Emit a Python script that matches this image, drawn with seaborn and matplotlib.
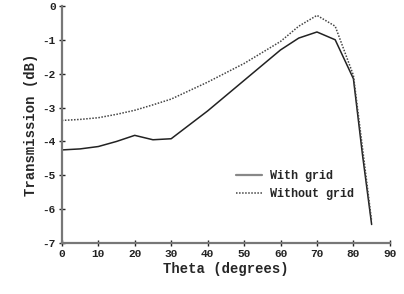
import matplotlib
matplotlib.use("Agg")
import matplotlib.pyplot as plt
import seaborn as sns
import pandas as pd

theta = [0, 5, 10, 15, 20, 25, 30, 40, 50, 60, 65, 70, 75, 80, 82.5, 85]
with_grid = [-4.25, -4.22, -4.15, -4.0, -3.82, -3.95, -3.92, -3.1, -2.2, -1.3, -0.95, -0.77, -1.0, -2.15, -4.4, -6.45]
without_grid = [-3.38, -3.35, -3.3, -3.2, -3.08, -2.92, -2.75, -2.25, -1.7, -1.05, -0.6, -0.28, -0.6, -2.05, -4.2, -6.35]
x_ticks = [0, 10, 20, 30, 40, 50, 60, 70, 80, 90]
y_ticks = [0, -1, -2, -3, -4, -5, -6, -7]

df = pd.DataFrame({
    "Theta": theta * 2,
    "Transmission": with_grid + without_grid,
    "Series": ["With grid"] * len(theta) + ["Without grid"] * len(theta),
})

sns.set_style("ticks")
plt.rcParams["font.family"] = ["Liberation Mono", "DejaVu Sans Mono"]
plt.rcParams["font.weight"] = "bold"

fig = plt.figure(figsize=(4.04, 2.94), dpi=100)
ax = fig.add_axes([0.153, 0.173, 0.812, 0.807])

sns.lineplot(data=df, x="Theta", y="Transmission", hue="Series", style="Series",
             palette={"With grid": "#222222", "Without grid": "#444444"},
             dashes={"With grid": "", "Without grid": (1, 1)},
             linewidth=1.1, ax=ax, legend=True)

ax.set_xlim(0, 90)
ax.set_ylim(-7, 0)
ax.set_xticks(x_ticks)
ax.set_yticks(y_ticks)
ax.set_xticklabels([str(v) for v in x_ticks], fontsize=8, fontweight="bold")
ax.set_yticklabels([str(v) for v in y_ticks], fontsize=8, fontweight="bold")
ax.set_xlabel("Theta (degrees)", fontsize=10, fontweight="bold", labelpad=2)
ax.set_ylabel("Transmission (dB)", fontsize=10, fontweight="bold", labelpad=3)
ax.tick_params(direction="inout", length=5, width=1, pad=2, colors="#222222")
for s in ["top", "right"]:
    ax.spines[s].set_visible(False)
for s in ["left", "bottom"]:
    ax.spines[s].set_color("#777777")
    ax.spines[s].set_linewidth(1.6)

leg = ax.legend(loc="center left", bbox_to_anchor=(0.5, 0.245), frameon=False,
                fontsize=8.5, handlelength=2.2, handletextpad=0.6, labelspacing=0.45)
for t in leg.get_texts():
    t.set_fontweight("bold")
leg.get_lines()[0].set_color("#888888")
leg.get_lines()[0].set_linewidth(1.6)

fig.savefig("out.png", dpi=100)
